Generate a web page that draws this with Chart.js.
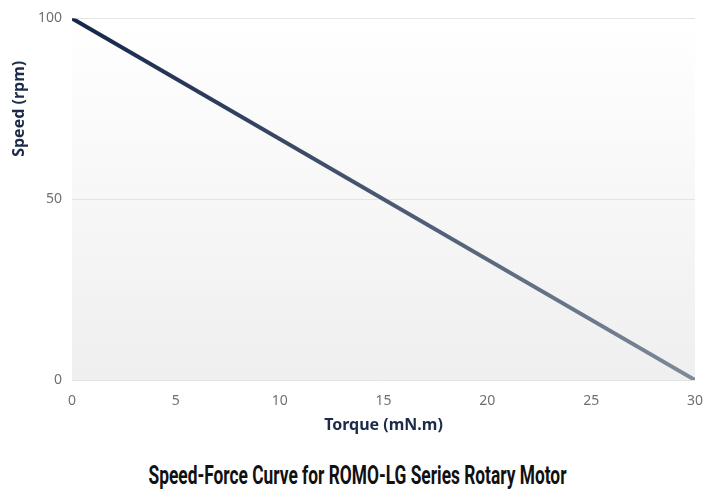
<!DOCTYPE html>
<html>
<head>
<meta charset="utf-8">
<script src="https://cdn.jsdelivr.net/npm/chart.js@4/dist/chart.umd.min.js"></script>
<style>
    html, body { margin: 0; padding: 0; background: #ffffff; }
    #wrap { width: 715px; height: 497px; position: relative; }
    #chart-box { position: absolute; left: 0; top: 0; width: 715px; height: 440px; }
    #chart-title {
        position: absolute; left: 0; top: 462px; width: 715px;
        text-align: center; white-space: nowrap;
        font-family: Roboto, "Liberation Sans", sans-serif; font-weight: bold; font-size: 25px;
        line-height: 28px; color: #111111;
    }
    #chart-title span { display: inline-block; transform-origin: center; }
</style>
</head>
<body>
<div id="wrap">
    <div id="chart-box"><canvas id="speed-chart"></canvas></div>
    <div id="chart-title"><span id="chart-title-text"></span></div>
</div>
<script>
// Chart data
const torque = [0, 30];
const speed = [100, 0];
const xTicks = [0, 5, 10, 15, 20, 25, 30];
const yTicks = [0, 50, 100];

const chartTitle = 'Speed-Force Curve for ROMO-LG Series Rotary Motor';
const xTitle = 'Torque (mN.m)';
const yTitle = 'Speed (rpm)';

// Condensed look for the caption: squeeze it to the reference width
const titleSpan = document.getElementById('chart-title-text');
titleSpan.textContent = chartTitle;
titleSpan.style.transform = `scaleX(${418 / titleSpan.offsetWidth})`;

// Plot area background gradient and y-axis title
const plotExtras = {
    id: 'plotExtras',
    beforeDraw(chart) {
        const { ctx, chartArea } = chart;
        if (!chartArea) return;
        const g = ctx.createLinearGradient(0, chartArea.top, 0, chartArea.bottom);
        g.addColorStop(0, '#ffffff');
        g.addColorStop(1, '#efefef');
        ctx.save();
        ctx.fillStyle = g;
        ctx.fillRect(chartArea.left, chartArea.top, chartArea.right - chartArea.left, chartArea.bottom - chartArea.top);
        ctx.restore();
    },
    afterDraw(chart) {
        const { ctx, chartArea } = chart;
        ctx.save();
        ctx.translate(19, chartArea.top + (chartArea.bottom - chartArea.top) * 0.25);
        ctx.rotate(-Math.PI / 2);
        ctx.font = 'bold 16px "Noto Sans", sans-serif';
        ctx.fillStyle = '#1c2b4a';
        ctx.textAlign = 'center';
        ctx.textBaseline = 'middle';
        ctx.fillText(yTitle, 0, 0);
        ctx.restore();
    }
};

function lineGradient(context) {
    const { chart } = context;
    const area = chart.chartArea;
    if (!area) return '#1c2b4a';
    const g = chart.ctx.createLinearGradient(area.left, 0, area.right, 0);
    g.addColorStop(0, '#14264a');
    g.addColorStop(1, '#7e8a99');
    return g;
}

const ctx = document.getElementById('speed-chart').getContext('2d');
const speedChart = new Chart(ctx, {
    type: 'line',
    data: {
        datasets: [{
            data: torque.map((t, i) => ({ x: t, y: speed[i] })),
            borderColor: lineGradient,
            backgroundColor: lineGradient,
            borderWidth: 4,
            pointRadius: 3,
            pointStyle: 'rect',
            pointBorderWidth: 0,
            tension: 0
        }]
    },
    plugins: [plotExtras],
    options: {
        responsive: true,
        maintainAspectRatio: false,
        animation: false,
        layout: {
            padding: { left: 28, right: 20, top: 6, bottom: 5 }
        },
        plugins: {
            legend: { display: false },
            tooltip: { enabled: false }
        },
        scales: {
            x: {
                type: 'linear',
                min: 0,
                max: 30,
                afterBuildTicks: axis => { axis.ticks = xTicks.map(v => ({ value: v })); },
                grid: { display: false },
                border: { display: false },
                ticks: {
                    color: '#707070',
                    font: { family: '"Noto Sans", sans-serif', size: 14 },
                    padding: 5
                },
                title: {
                    display: true,
                    text: xTitle,
                    color: '#1c2b4a',
                    font: { family: '"Noto Sans", sans-serif', size: 16, weight: 'bold' },
                    padding: { top: 1, bottom: 0 }
                }
            },
            y: {
                min: 0,
                max: 100,
                afterBuildTicks: axis => { axis.ticks = yTicks.map(v => ({ value: v })); },
                grid: { color: '#e4e4e4', drawTicks: false },
                border: { display: false },
                ticks: {
                    color: '#707070',
                    font: { family: '"Noto Sans", sans-serif', size: 14 },
                    padding: 10
                }
            }
        }
    }
});
</script>
</body>
</html>
